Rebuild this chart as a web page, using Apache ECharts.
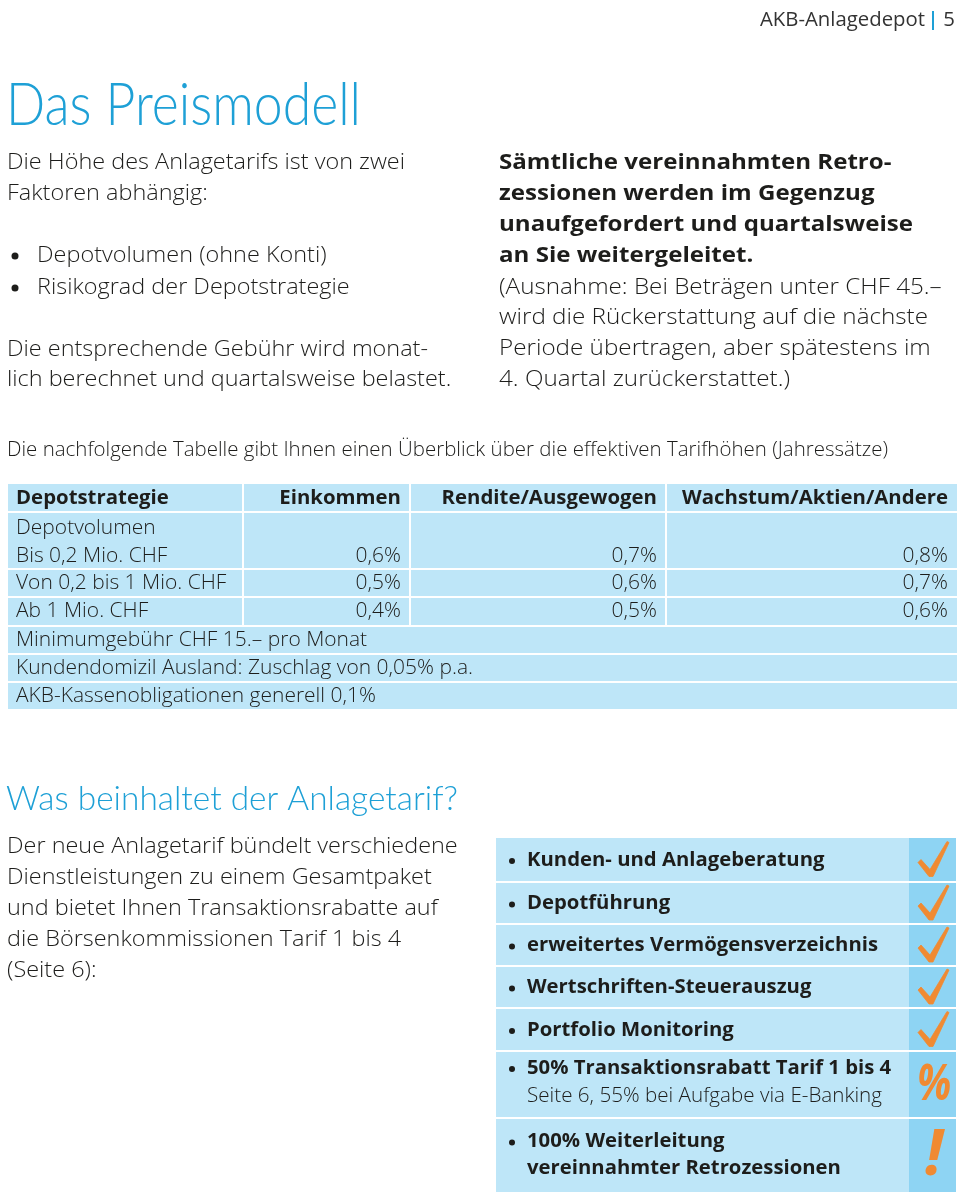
<!DOCTYPE html>
<html><head><meta charset="utf-8">
<script src="https://cdn.jsdelivr.net/npm/echarts@6/dist/echarts.min.js"></script>
<style>html,body{margin:0;padding:0;background:#fff}#c{width:960px;height:1197px}</style>
</head><body><div id="c"></div>
<script>
// ---------------- content / data ----------------
const pageHeader = 'AKB-Anlagedepot';
const pageNumber = '5';
const title1 = 'Das Preismodell';
const introLines = ['Die Höhe des Anlagetarifs ist von zwei', 'Faktoren abhängig:'];
const factors = ['Depotvolumen (ohne Konti)', 'Risikograd der Depotstrategie'];
const feeLines = ['Die entsprechende Gebühr wird monat-', 'lich berechnet und quartalsweise belastet.'];
const retroBold = ['Sämtliche vereinnahmten Retro-', 'zessionen werden im Gegenzug', 'unaufgefordert und quartalsweise', 'an Sie weitergeleitet.'];
const retroNote = ['(Ausnahme: Bei Beträgen unter CHF 45.–', 'wird die Rückerstattung auf die nächste', 'Periode übertragen, aber spätestens im', '4. Quartal zurückerstattet.)'];
const tableIntro = 'Die nachfolgende Tabelle gibt Ihnen einen Überblick über die effektiven Tarifhöhen (Jahressätze)';
const rowHeader = 'Depotstrategie';
const strategies = ['Einkommen', 'Rendite/Ausgewogen', 'Wachstum/Aktien/Andere'];
const volumeHeader = 'Depotvolumen';
const tiers = ['Bis 0,2 Mio. CHF', 'Von 0,2 bis 1 Mio. CHF', 'Ab 1 Mio. CHF'];
const einkommen = [0.6, 0.5, 0.4];
const rendite = [0.7, 0.6, 0.5];
const wachstum = [0.8, 0.7, 0.6];
const tableNotes = ['Minimumgebühr CHF 15.– pro Monat', 'Kundendomizil Ausland: Zuschlag von 0,05% p.a.', 'AKB-Kassenobligationen generell 0,1%'];
const title2 = 'Was beinhaltet der Anlagetarif?';
const bundleLines = ['Der neue Anlagetarif bündelt verschiedene', 'Dienstleistungen zu einem Gesamtpaket', 'und bietet Ihnen Transaktionsrabatte auf', 'die Börsenkommissionen Tarif 1 bis 4', '(Seite 6):'];
const serviceTitles = [['Kunden- und Anlageberatung'], ['Depotführung'], ['erweitertes Vermögensverzeichnis'], ['Wertschriften-Steuerauszug'], ['Portfolio Monitoring'], ['50% Transaktionsrabatt Tarif 1 bis 4'], ['100% Weiterleitung', 'vereinnahmter Retrozessionen']];
const serviceNotes = ['', '', '', '', '', 'Seite 6, 55% bei Aufgabe via E-Banking', ''];
const serviceIcons = ['check', 'check', 'check', 'check', 'check', '%', '!'];

// ---------------- layout / style ----------------
const BLUE = '#1ea0d6', INK = '#1d1d1b', CELL = '#bee6f8', ICONCOL = '#8ed4f3', ORANGE = '#f08a32';
const SANS = "'Open Sans','Noto Sans',sans-serif";
const THIN = "Lato,'Open Sans',sans-serif";
const ctx = document.createElement('canvas').getContext('2d');
function fontStr(size, weight, family) { return weight + ' ' + size + 'px ' + family; }
function measure(text, size, weight, family) { ctx.font = fontStr(size, weight, family); return ctx.measureText(text).width; }
function fit(text, size, weight, family, target) { return target / measure(text, size, weight, family); }
function txt(x, y, text, size, weight, family, sx, color, align, style) {
  return { type: 'text', x: x, y: y, scaleX: sx, silent: true,
    style: { text: text, x: 0, y: 0, font: (style || 'normal') + ' ' + fontStr(size, weight, family), fill: color || INK,
      textAlign: align || 'left', textVerticalAlign: 'middle', textBaseline: 'middle' } };
}
function rect(x, y, w, h, fill) { return { type: 'rect', silent: true, shape: { x: x, y: y, width: w, height: h }, style: { fill: fill } }; }
const fmt = v => v.toFixed(1).replace('.', ',') + '%';

const G = [];
// page header
const hdS = fit(pageHeader, 20, 'normal', SANS, 165);
G.push(txt(925, 20, pageHeader, 20, 'normal', SANS, hdS, '#333', 'right'));
G.push(rect(932, 11, 2, 19, BLUE));
G.push(txt(955, 20, pageNumber, 20, 'normal', SANS, hdS, '#333', 'right'));

// title 1
G.push(txt(6, 106, title1, 60, 300, THIN, fit(title1, 60, 300, THIN, 355), BLUE));

// left column
const bodyS = fit(introLines[0], 22, 300, SANS, 398);
[163, 194].forEach((y, i) => G.push(txt(7, y, introLines[i], 22, 300, SANS, bodyS)));
[256, 288].forEach((y, i) => {
  G.push({ type: 'circle', silent: true, shape: { cx: 15, cy: y, r: 3.5 }, style: { fill: INK } });
  G.push(txt(37, y, factors[i], 22, 300, SANS, bodyS));
});
[350, 380].forEach((y, i) => G.push(txt(7, y, feeLines[i], 22, 300, SANS, bodyS)));

// right column
const boldS = fit(retroBold[2], 22, 'bold', SANS, 414);
[163, 194, 225, 256].forEach((y, i) => G.push(txt(499, y, retroBold[i], 22, 'bold', SANS, boldS)));
const noteS = fit(retroNote[1], 22, 300, SANS, 429);
[288, 318, 349, 380].forEach((y, i) => G.push(txt(499, y, retroNote[i], 22, 300, SANS, noteS)));

// table intro
G.push(txt(7, 450, tableIntro, 20, 300, SANS, fit(tableIntro, 20, 300, SANS, 881)));

// table
const colX = [8, 243, 410, 666, 957];
const gap = 2;
const rowsY = [[484, 511], [513, 568], [570, 596], [598, 625]];
const noteRows = [[627, 653], [655, 681], [683, 709]];
rowsY.forEach(r => {
  for (let c = 0; c < 4; c++) G.push(rect(colX[c] + (c ? gap / 2 : 0), r[0], colX[c + 1] - colX[c] - (c ? gap / 2 : 0) - (c < 3 ? gap / 2 : 0), r[1] - r[0], CELL));
});
noteRows.forEach(r => G.push(rect(colX[0], r[0], colX[4] - colX[0], r[1] - r[0], CELL)));
const thS = fit(strategies[2], 20, 'bold', SANS, 266);
G.push(txt(16, 498, rowHeader, 20, 'bold', SANS, thS));
strategies.forEach((s, i) => G.push(txt(colX[i + 2] - 9, 498, s, 20, 'bold', SANS, thS, INK, 'right')));
const tdS = fit(tableNotes[1], 20, 300, SANS, 457);
G.push(txt(16, 528, volumeHeader, 20, 300, SANS, tdS));
const tierY = [556, 583, 611];
const vals = [einkommen, rendite, wachstum];
tiers.forEach((t, i) => {
  G.push(txt(16, tierY[i], t, 20, 300, SANS, tdS));
  vals.forEach((arr, c) => G.push(txt(colX[c + 2] - 9, tierY[i], fmt(arr[i]), 20, 300, SANS, tdS, INK, 'right')));
});
[640, 668, 696].forEach((y, i) => G.push(txt(16, y, tableNotes[i], 20, 300, SANS, tdS)));

// title 2
G.push(txt(6, 799, title2, 34, 300, THIN, fit(title2, 34, 300, THIN, 452), BLUE));
[847, 878, 909, 940, 971].forEach((y, i) => G.push(txt(7, y, bundleLines[i], 22, 300, SANS, bodyS)));

// services box
const boxX = 496, boxR = 956, iconX = 909;
const sRows = [[838, 881], [883, 923], [925, 965], [967, 1007], [1009, 1050], [1052, 1117], [1119, 1192]];
const sBoldS = fit(serviceTitles[2][0], 20, 'bold', SANS, 351);
const sNoteS = fit(serviceNotes[5], 20, 300, SANS, 355);
sRows.forEach((r, i) => {
  G.push(rect(boxX, r[0], iconX - boxX, r[1] - r[0], CELL));
  G.push(rect(iconX, r[0], boxR - iconX, r[1] - r[0], ICONCOL));
  const lines = serviceTitles[i];
  const cy = (r[0] + r[1]) / 2;
  let ys;
  if (lines.length === 2) ys = [cy - 14, cy + 13];
  else if (serviceNotes[i]) ys = [cy - 16.5];
  else ys = [cy + 0.5];
  G.push({ type: 'circle', silent: true, shape: { cx: 512, cy: ys[0] + 1, r: 3 }, style: { fill: INK } });
  lines.forEach((l, k) => G.push(txt(527, ys[k], l, 20, 'bold', SANS, sBoldS)));
  if (serviceNotes[i]) G.push(txt(527, ys[0] + 28, serviceNotes[i], 20, 300, SANS, sNoteS));
  const icx = 933;
  if (serviceIcons[i] === 'check') {
    const pts = [[-15, 3], [-12, 0], [-3, 10], [14, -18], [16, -17], [0, 17], [-4, 17]].map(p => [icx + p[0], cy + p[1]]);
    G.push({ type: 'polygon', silent: true, shape: { points: pts, smooth: 0 }, style: { fill: ORANGE, stroke: ORANGE, lineWidth: 0.8, lineJoin: 'round' } });
  } else if (serviceIcons[i] === '%') {
    G.push(txt(icx + 1, cy + 1, '%', 50, 'bold', SANS, 0.8, ORANGE, 'center', 'italic'));
  } else {
    G.push(txt(icx + 1, cy + 1, '!', 64, 'bold', SANS, 1, ORANGE, 'center', 'italic'));
  }
});

const chart = echarts.init(document.getElementById('c'), null, { renderer: 'canvas', width: 960, height: 1197 });
chart.setOption({ backgroundColor: '#ffffff', animation: false, graphic: { elements: G } });
</script></body></html>
